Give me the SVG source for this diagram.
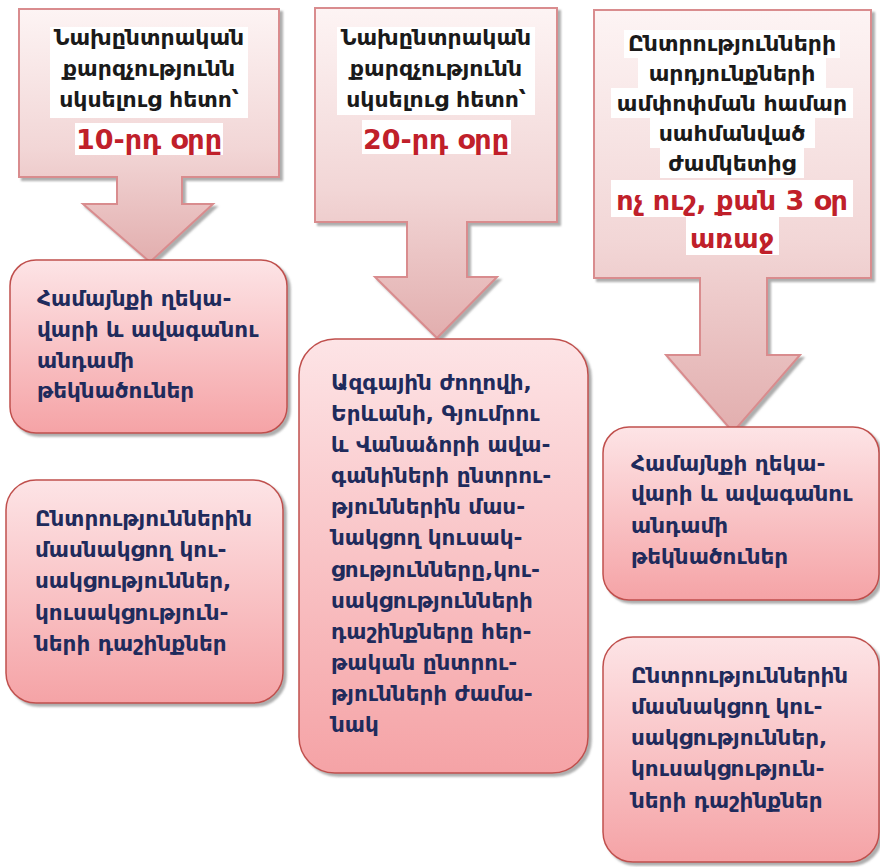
<svg xmlns="http://www.w3.org/2000/svg" width="880" height="867" viewBox="0 0 880 867">
<defs>
<linearGradient id="gCall" x1="0" y1="0" x2="0" y2="1">
<stop offset="0" stop-color="#fdf4f4"/>
<stop offset="0.55" stop-color="#f2d6d6"/>
<stop offset="1" stop-color="#e2aeae"/>
</linearGradient>
<linearGradient id="gBox" x1="0" y1="0" x2="0" y2="1">
<stop offset="0" stop-color="#fde4e6"/>
<stop offset="1" stop-color="#f5a3a6"/>
</linearGradient>
<filter id="sh" x="-10%" y="-10%" width="130%" height="130%">
<feDropShadow dx="3" dy="3" stdDeviation="1" flood-color="#777" flood-opacity="0.6"/>
</filter>
</defs>
<style>
.call{fill:url(#gCall);stroke:#d98c8e;stroke-width:2;filter:url(#sh)}
.box{fill:url(#gBox);stroke:#c0504d;stroke-width:1.5;filter:url(#sh)}
.hl{fill:#ffffff}
.bt{font-family:"DejaVu Sans",sans-serif;font-weight:bold;font-size:22px;fill:#1a1a1a;text-anchor:middle}
.rt{font-family:"DejaVu Sans",sans-serif;font-weight:bold;font-size:27px;fill:#c0202a;text-anchor:middle}
.nt{font-family:"DejaVu Sans",sans-serif;font-weight:bold;font-size:21.5px;fill:#1f2b5c}
</style>
<g id="callout1">
<path class="call" d="M19,9 H279 V177 H182 V204 H213 L150,262 L83,204 H117 V177 H19 Z"/>
<rect class="hl" x="50" y="27" width="198" height="91"/>
<rect class="hl" x="75" y="123" width="148" height="32"/>
<text class="bt" x="149" y="45">Նախընտրական</text>
<text class="bt" x="149" y="76">քարզչությունն</text>
<text class="bt" x="149" y="107">սկսելուց հետո՝</text>
<text class="rt" x="149" y="149">10-րդ օրը</text>
</g>
<g id="callout2">
<path class="call" d="M315,8 H557 V222 H467 V277 H497 L437,338 L375,277 H407 V222 H315 Z"/>
<rect class="hl" x="337" y="27" width="198" height="88"/>
<rect class="hl" x="362" y="120" width="149" height="34"/>
<text class="bt" x="436" y="45">Նախընտրական</text>
<text class="bt" x="436" y="76">քարզչությունն</text>
<text class="bt" x="436" y="107">սկսելուց հետո՝</text>
<text class="rt" x="436" y="149">20-րդ օրը</text>
</g>
<g id="callout3">
<path class="call" d="M594,10 H871 V278 H767 V355 H800 L733,432 L666,355 H700 V278 H594 Z"/>
<rect class="hl" x="624" y="30" width="216" height="28"/>
<rect class="hl" x="638" y="58" width="188" height="30"/>
<rect class="hl" x="611" y="88" width="242" height="30"/>
<rect class="hl" x="650" y="118" width="165" height="30"/>
<rect class="hl" x="660" y="148" width="144" height="30"/>
<rect class="hl" x="611" y="180" width="242" height="37"/>
<rect class="hl" x="686" y="217" width="93" height="38"/>
<text class="bt" x="732" y="51">Ընտրությունների</text>
<text class="bt" x="732" y="81">արդյունքների</text>
<text class="bt" x="732" y="111">ամփոփման համար</text>
<text class="bt" x="732" y="141">սահմանված</text>
<text class="bt" x="732" y="171">ժամկետից</text>
<text class="rt" x="732" y="210">ոչ ուշ, քան 3 օր</text>
<text class="rt" x="732" y="248">առաջ</text>
</g>
<g id="connectors"></g>
<g id="boxA">
<rect class="box" x="10" y="260" width="277" height="173" rx="26"/>
<text class="nt" x="37" y="306">Համայնքի ղեկա-</text>
<text class="nt" x="37" y="337">վարի և ավագանու</text>
<text class="nt" x="37" y="368">անդամի</text>
<text class="nt" x="37" y="398">թեկնածուներ</text>
</g>
<g id="boxB">
<rect class="box" x="6" y="480" width="277" height="223" rx="30"/>
<text class="nt" x="35" y="526">Ընտրություններին</text>
<text class="nt" x="35" y="557">մասնակցող կու-</text>
<text class="nt" x="35" y="588">սակցություններ,</text>
<text class="nt" x="35" y="620">կուսակցություն-</text>
<text class="nt" x="35" y="651">ների դաշինքներ</text>
</g>
<g id="boxC">
<rect class="box" x="299" y="339" width="289" height="434" rx="36"/>
<text class="nt" x="331" y="390">Ազգային ժողովի,</text>
<text class="nt" x="331" y="421">Երևանի, Գյումրու</text>
<text class="nt" x="331" y="452">և Վանաձորի ավա-</text>
<text class="nt" x="331" y="483">գանիների ընտրու-</text>
<text class="nt" x="331" y="514">թյուններին մաս-</text>
<text class="nt" x="331" y="545">նակցող կուսակ-</text>
<text class="nt" x="331" y="577">ցությունները,կու-</text>
<text class="nt" x="331" y="608">սակցությունների</text>
<text class="nt" x="331" y="639">դաշինքները հեր-</text>
<text class="nt" x="331" y="670">թական ընտրու-</text>
<text class="nt" x="331" y="701">թյունների ժամա-</text>
<text class="nt" x="331" y="732">նակ</text>
</g>
<g id="boxD">
<rect class="box" x="603" y="427" width="276" height="173" rx="26"/>
<text class="nt" x="631" y="471">Համայնքի ղեկա-</text>
<text class="nt" x="631" y="501">վարի և ավագանու</text>
<text class="nt" x="631" y="533">անդամի</text>
<text class="nt" x="631" y="564">թեկնածուներ</text>
</g>
<g id="boxE">
<rect class="box" x="603" y="637" width="276" height="225" rx="30"/>
<text class="nt" x="631" y="683">Ընտրություններին</text>
<text class="nt" x="631" y="714">մասնակցող կու-</text>
<text class="nt" x="631" y="745">սակցություններ,</text>
<text class="nt" x="631" y="776">կուսակցություն-</text>
<text class="nt" x="631" y="808">ների դաշինքներ</text>
</g>
</svg>
